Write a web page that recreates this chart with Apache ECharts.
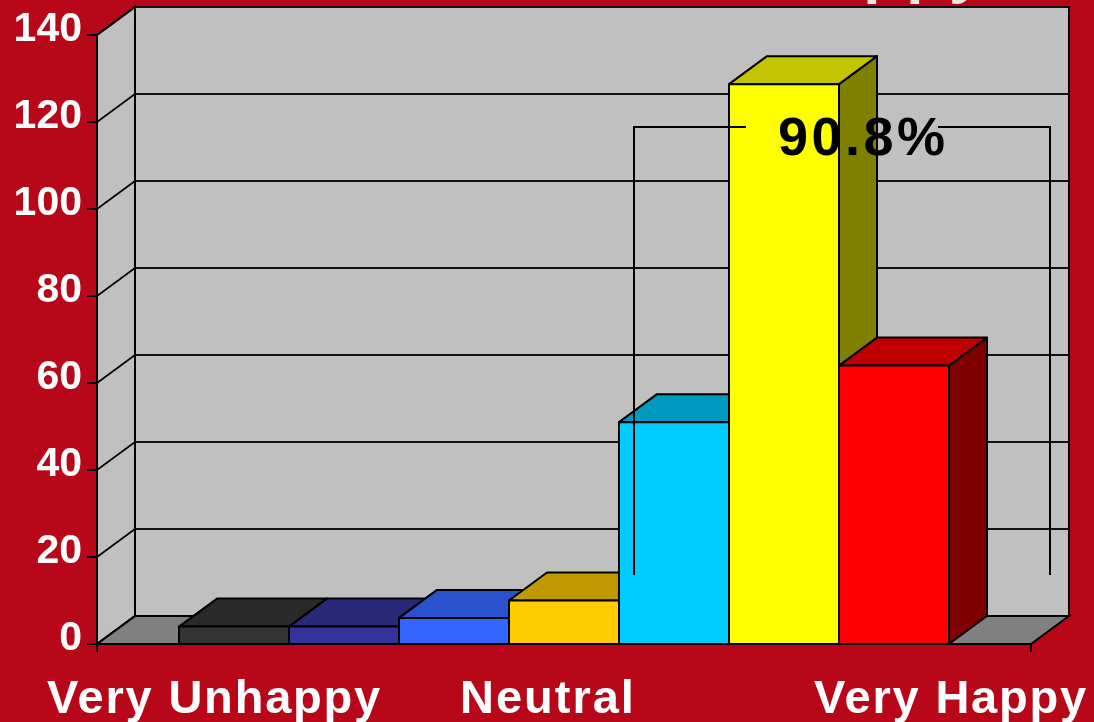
<!DOCTYPE html>
<html><head><meta charset="utf-8">
<style>html,body{margin:0;padding:0;background:#B80718}#c{width:1094px;height:722px}</style>
<script src="https://cdn.jsdelivr.net/npm/echarts@6/dist/echarts.min.js"></script>
</head><body><div id="c"></div>
<script>
const barNames = ['Very Unhappy','Unhappy','Somewhat Unhappy','Neutral','Somewhat Happy','Happy','Very Happy'];
const barValues = [4,4,6,10,51,128.7,64];
const barColors = ['#333333','#333399','#3366FF','#FFCC00','#00CCFF','#FFFF00','#FF0000'];
const topColors = ['#292929','#29297A','#2952CC','#C09900','#0099BF','#C4C400','#C00000'];
const sideColors = ['#1A1A1A','#1A1A4D','#1A3380','#806600','#006680','#808000','#800000'];
const yTicks = [0,20,40,60,80,100,120,140];
const scaleLabels = ['Very Unhappy','Neutral','Very Happy'];
const callout = '90.8%';
const clippedTitle = 'Happy';

const DX = 38, DY = -28;
const spacing = {'Very Unhappy':1.8,'Neutral':2,'Very Happy':1.8,'90.8%':3.5,'Happy':5};
const origFill = CanvasRenderingContext2D.prototype.fillText;
CanvasRenderingContext2D.prototype.fillText = function(t){
  const s = spacing[t];
  if (s) { this.letterSpacing = s + 'px'; origFill.apply(this, arguments); this.letterSpacing = '0px'; }
  else origFill.apply(this, arguments);
};

const FONT = '"Liberation Sans", Arial, sans-serif';
const chart = echarts.init(document.getElementById('c'), null, {width:1094, height:722});
const line = {stroke:'#000', lineWidth:1.6};

function renderWalls(params, api){
  const x0 = api.coord([0,0]), x1 = api.coord([1,0]), t0 = api.coord([0,yTicks[yTicks.length-1]]);
  const off = p => [p[0]+DX, p[1]+DY];
  const children = [
    {type:'polygon', shape:{points:[x0,t0,off(t0),off(x0)]}, style:{fill:'#C0C0C0', stroke:'#000', lineWidth:2}},
    {type:'polygon', shape:{points:[x0,x1,off(x1),off(x0)]}, style:{fill:'#808080', stroke:'#000', lineWidth:2}}
  ];
  yTicks.forEach(v => {
    const p = api.coord([0,v]), q = off(p);
    children.push({type:'line', shape:{x1:p[0],y1:p[1],x2:q[0],y2:q[1]}, style:line});
  });
  return {type:'group', children};
}
function renderBar(params, api){
  const i = api.value(0), v = api.value(1);
  const a = api.coord([i,0]), b = api.coord([i,v]), w = api.size([1,0])[0];
  const l = a[0]-w/2, r = a[0]+w/2, y0 = a[1], y1 = b[1];
  const st = c => ({fill:c, stroke:'#000', lineWidth:2, lineJoin:'round'});
  return {type:'group', children:[
    {type:'polygon', shape:{points:[[r,y0],[r,y1],[r+DX,y1+DY],[r+DX,y0+DY]]}, style:st(sideColors[i])},
    {type:'polygon', shape:{points:[[l,y1],[r,y1],[r+DX,y1+DY],[l+DX,y1+DY]]}, style:st(topColors[i])},
    {type:'rect', shape:{x:l,y:y1,width:r-l,height:y0-y1}, style:st(barColors[i])}
  ]};
}
const yLabelStyle = {show:true,color:'#fff',fontFamily:FONT,fontWeight:'bold',fontSize:41,margin:15,lineHeight:10,verticalAlign:'bottom'};
const txt = (t,x,y,size,fill) => ({type:'text', z:50, x, y,
  style:{text:t, fontFamily:FONT, fontWeight:'bold', fontSize:size, fill, textAlign:'left', verticalAlign:'middle'}});
const poly = pts => ({type:'polyline', z:40, shape:{points:pts}, style:{stroke:'#000', lineWidth:2, fill:null}});

chart.setOption({
  animation:false,
  backgroundColor:'#B80718',
  grid:[
    {left:135,right:25,top:7,bottom:106,show:true,backgroundColor:'#C0C0C0',borderColor:'#000',borderWidth:2},
    {left:97,right:63,top:35,bottom:78},
    {left:179,right:145,top:35,bottom:78}
  ],
  xAxis:[
    {gridIndex:0,type:'value',min:0,max:1,show:false},
    {gridIndex:1,type:'value',min:0,max:1,interval:1,axisLine:{show:true,onZero:false,lineStyle:{color:'#000',width:2}},
     axisTick:{show:true,length:8,lineStyle:{color:'#000',width:2}},axisLabel:{show:false},splitLine:{show:false},z:6},
    {gridIndex:2,type:'category',data:barNames,show:false}
  ],
  yAxis:[
    {gridIndex:0,type:'value',min:0,max:140,interval:20,axisLine:{show:false},axisTick:{show:false},axisLabel:{show:false},
     splitLine:{show:true,lineStyle:{color:'#111',width:2}}},
    {gridIndex:1,type:'value',min:0,max:140,interval:20,axisLine:{show:true,lineStyle:{color:'#000',width:2}},
     axisTick:{show:true,length:10,lineStyle:{color:'#000',width:2}},axisLabel:yLabelStyle,splitLine:{show:false},z:6},
    {gridIndex:2,type:'value',min:0,max:140,show:false}
  ],
  series:[
    {type:'custom',xAxisIndex:1,yAxisIndex:1,data:[[0,0]],renderItem:renderWalls,silent:true,z:1,clip:false},
    {type:'custom',xAxisIndex:2,yAxisIndex:2,data:barValues.map((v,i)=>[i,v]),renderItem:renderBar,silent:true,z:3,clip:false,
     encode:{x:0,y:1}}
  ],
  graphic:[
    poly([[634,575],[634,127],[746,127]]),
    poly([[938,127],[1050,127],[1050,575]]),
    txt(callout,778,140,54,'#000'),
    txt(scaleLabels[0],47,700,47,'#fff'),
    txt(scaleLabels[1],460,700,47,'#fff'),
    txt(scaleLabels[2],814,700,47,'#fff'),
    txt(clippedTitle,774,-26,62,'#E8E8E0')
  ]
});
</script></body></html>
